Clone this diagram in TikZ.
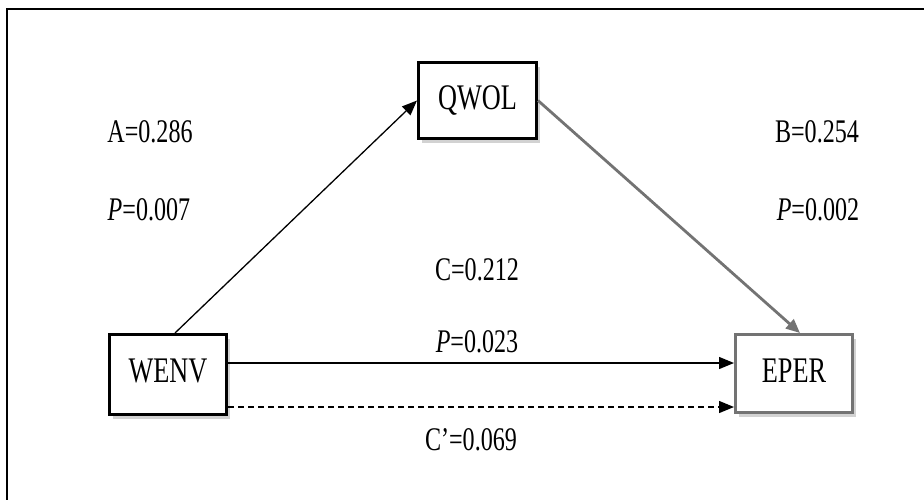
\documentclass[tikz,border=0pt]{standalone}
\usepackage{fontspec}
\setmainfont{Liberation Serif}[FakeStretch=0.73]
\usetikzlibrary{arrows.meta,shadows}
\begin{document}
\begin{tikzpicture}[x=1pt,y=-1pt,
  every node/.style={font=\fontsize{33}{38}\selectfont, inner sep=0pt},
  varbox/.style={draw=black, line width=3pt, fill=white,
    font=\fontsize{36}{40}\selectfont,
    drop shadow={shadow xshift=3pt, shadow yshift=-4pt, fill=gray!35, opacity=1}},
  graybox/.style={varbox, draw=black!55},
  lbl/.style={anchor=center},
  arr/.style={line width=1.3pt, -{Triangle[length=15pt,width=12pt]}},
  grayarr/.style={line width=2.8pt, draw=black!55, -{Triangle[length=14pt,width=12pt]}}]
\useasboundingbox (0,0) rectangle (924,499);
% outer frame (continues beyond the picture)
\draw[line width=2.4pt] (7,510) -- (7,9) -- (935,9);
% boxes
\node[varbox, minimum width=118pt, minimum height=76pt] (qwol) at (477.5,100.5) {\raisebox{4pt}{QWOL}};
\node[varbox, minimum width=117pt, minimum height=80pt] (wenv) at (168,374.5) {\raisebox{7pt}{WENV}};
\node[graybox, minimum width=117pt, minimum height=78pt] (eper) at (794,373.5) {\raisebox{6pt}{EPER}};
% labels
\node[lbl] (a) at (150,132) {A=0.286};
\node[lbl] (pa) at (149,210) {\textit{P}=0.007};
\node[lbl] (b) at (817,132) {B=0.254};
\node[lbl] (pb) at (818,210) {\textit{P}=0.002};
\node[lbl] (c) at (477,270) {C=0.212};
\node[lbl] (pc) at (477,342) {\textit{P}=0.023};
\node[lbl] (cp) at (471,440) {C’=0.069};
% connectors
\draw[arr] ([xshift=7pt]wenv.north) -- (qwol.west);
\draw[grayarr] (qwol.east) -- ([xshift=6pt]eper.north);
\draw[arr] (wenv.east |- 0,363) -- (eper.west |- 0,363);
\draw[arr, dashed, dash pattern=on 6pt off 4pt] (wenv.east |- 0,407) -- (eper.west |- 0,407);
\end{tikzpicture}
\end{document}
